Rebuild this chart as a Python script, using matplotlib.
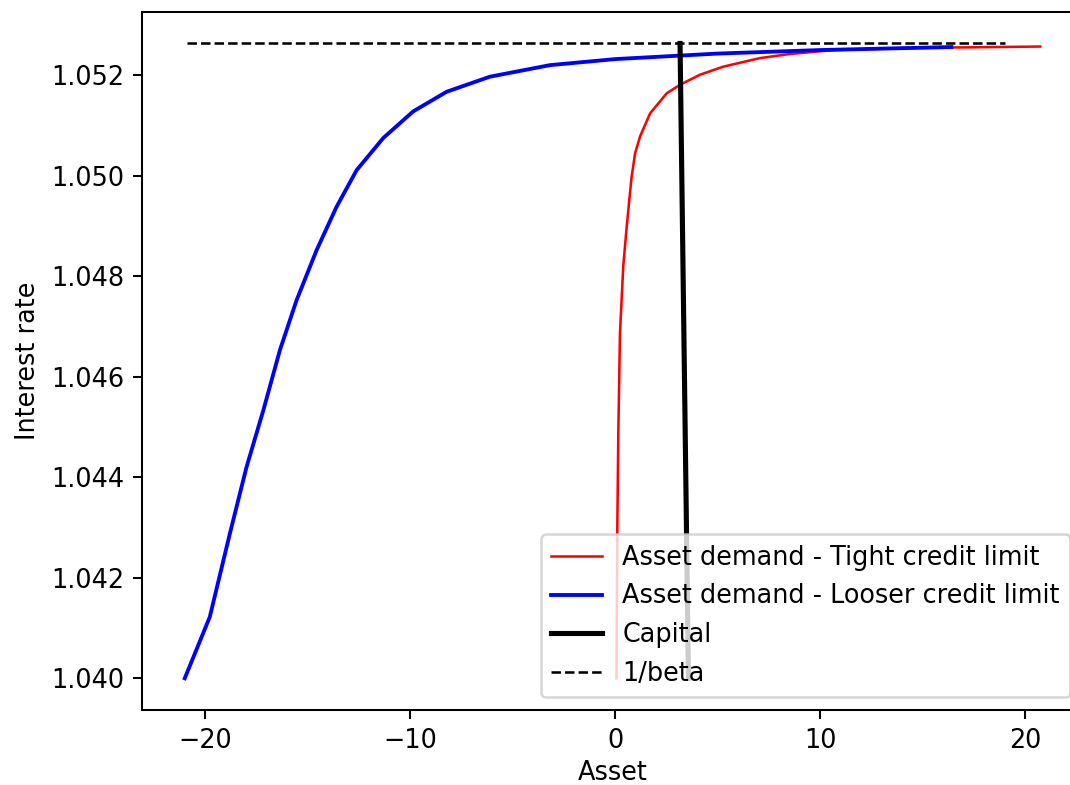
import matplotlib
matplotlib.use("Agg")
import matplotlib.pyplot as plt

beta = 0.95

# Asset demand, tight credit limit
tight_asset = [0.07, 0.11, 0.16, 0.24, 0.40, 0.55, 0.68, 0.80, 0.98, 1.22,
               1.71, 2.52, 3.17, 4.15, 5.28, 7.07, 8.50, 10.65, 14.0, 20.73]
tight_rate = [1.04000, 1.04294, 1.04487, 1.04686, 1.04819, 1.04890, 1.04945,
              1.04995, 1.05045, 1.05078, 1.05124, 1.05164, 1.05181, 1.05201,
              1.05217, 1.05234, 1.05242, 1.05250, 1.05254, 1.05257]

# Asset demand, looser credit limit
loose_asset = [-20.98, -19.76, -18.78, -17.97, -17.15, -16.34, -15.53, -14.55,
               -13.58, -12.60, -11.30, -9.84, -8.21, -6.10, -3.17, 0.0, 5.0,
               10.0, 16.40]
loose_rate = [1.04000, 1.04122, 1.04288, 1.04420, 1.04533, 1.04653, 1.04752,
              1.04852, 1.04938, 1.05011, 1.05075, 1.05128, 1.05167, 1.05197,
              1.05220, 1.05232, 1.05243, 1.05250, 1.05256]

# Capital demand
capital_asset = [3.58, 3.17]
capital_rate = [1.04000, 1 / beta]

# 1/beta line
beta_asset = [-20.86, 19.0]

DPI = 184
fig = plt.figure(figsize=(1070 / DPI, 785 / DPI), dpi=DPI)
ax = fig.add_axes([0.1327, 0.0955, 0.8794, 0.8896])

ax.plot(tight_asset, tight_rate, color="r", linewidth=1,
        label="Asset demand - Tight credit limit")
ax.plot(loose_asset, loose_rate, color="b", linewidth=1.5,
        label="Asset demand - Looser credit limit")
ax.plot(capital_asset, capital_rate, color="k", linewidth=2, label="Capital")
ax.plot(beta_asset, [1 / beta] * len(beta_asset), "k--", linewidth=1,
        label="1/beta")

ax.set_xlabel("Asset", labelpad=2.5)
ax.set_ylabel("Interest rate")
ax.legend(loc="lower right")

fig.savefig("out.png", dpi=DPI)
